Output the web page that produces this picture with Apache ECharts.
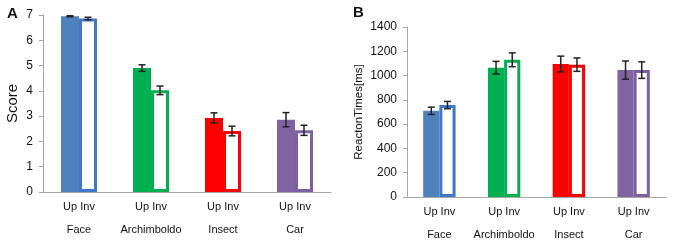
<!DOCTYPE html>
<html>
<head>
<meta charset="utf-8">
<script src="https://cdn.jsdelivr.net/npm/echarts@6/dist/echarts.min.js"></script>
<style>
  html, body { margin: 0; padding: 0; background: #fff; }
  #chart { width: 686px; height: 246px; }
</style>
</head>
<body>
<div id="chart"></div>
<script>
const categories = ['Face', 'Archimboldo', 'Insect', 'Car'];
const barColors = ['#4F81BD', '#00B050', '#FF0000', '#8064A2'];
const invBorders = ['#3F78C8', '#00B050', '#FF0000', '#7E5FA4'];

// panel A: score
const scoreUp = [6.95, 4.9, 2.93, 2.86];
const scoreUpErr = [0.02, 0.13, 0.2, 0.28];
const scoreInv = [6.86, 4.02, 2.41, 2.44];
const scoreInvErr = [0.05, 0.17, 0.19, 0.2];

// panel B: reaction times
const rtUp = [710, 1065, 1095, 1045];
const rtUpErr = [30, 52, 65, 75];
const rtInv = [757, 1130, 1090, 1045];
const rtInvErr = [30, 57, 55, 68];

const axisGrey = '#A6A6A6';
const font = 'Liberation Sans, Arial, sans-serif';

const chart = echarts.init(document.getElementById('chart'));

function errorSeries(idx, vals, errs, side) {
  return {
    type: 'custom',
    xAxisIndex: idx,
    yAxisIndex: idx,
    z: 10,
    data: vals.map((v, i) => [i, v, errs[i]]),
    renderItem: (params, api) => {
      const band = api.size([1, 0])[0];
      const off = side * band * 0.25 / 2;
      const top = api.coord([api.value(0), api.value(1) + api.value(2)]);
      const bot = api.coord([api.value(0), api.value(1) - api.value(2)]);
      const x = top[0] + off;
      const cap = 3.5;
      const style = { stroke: '#222', lineWidth: 1.5 };
      return {
        type: 'group',
        children: [
          { type: 'line', shape: { x1: x, y1: top[1], x2: x, y2: bot[1] }, style },
          { type: 'line', shape: { x1: x - cap, y1: top[1], x2: x + cap, y2: top[1] }, style },
          { type: 'line', shape: { x1: x - cap, y1: bot[1], x2: x + cap, y2: bot[1] }, style }
        ]
      };
    }
  };
}

function xAxisFor(idx) {
  return {
    type: 'category',
    gridIndex: idx,
    data: categories,
    axisLine: { lineStyle: { color: axisGrey, width: 1 } },
    axisTick: { length: 45, lineStyle: { color: axisGrey } },
    axisLabel: {
      margin: 3,
      interval: 0,
      color: '#111',
      fontFamily: font,
      fontSize: 11,
      lineHeight: 23,
      formatter: v => 'Up Inv\n' + v
    }
  };
}

function yAxisFor(idx, max, interval, name, nameSize, gap) {
  return {
    type: 'value',
    gridIndex: idx,
    min: 0,
    max: max,
    interval: interval,
    name: name,
    nameLocation: 'middle',
    nameGap: gap,
    nameTextStyle: { color: '#111', fontFamily: font, fontSize: nameSize },
    axisLine: { show: true, lineStyle: { color: axisGrey } },
    axisTick: { show: true, length: 4, lineStyle: { color: axisGrey } },
    axisLabel: { color: '#111', fontFamily: font, fontSize: 12, margin: 10, formatter: v => String(v) },
    splitLine: { show: false }
  };
}

function upBars(idx, vals) {
  return {
    type: 'bar',
    xAxisIndex: idx,
    yAxisIndex: idx,
    barWidth: '25%',
    barGap: '0%',
    data: vals.map((v, i) => ({ value: v, itemStyle: { color: barColors[i] } }))
  };
}

function invBars(idx, vals) {
  return {
    type: 'bar',
    xAxisIndex: idx,
    yAxisIndex: idx,
    barWidth: '25%',
    barGap: '0%',
    data: vals.map((v, i) => ({
      value: v,
      itemStyle: { color: '#fff', borderColor: invBorders[i], borderWidth: 3 }
    }))
  };
}

chart.setOption({
  animation: false,
  backgroundColor: '#fff',
  title: [
    { text: 'A', left: 2, top: 1, textStyle: { fontFamily: font, fontSize: 15, fontWeight: 'bold', color: '#111' } },
    { text: 'B', left: 348, top: 0, textStyle: { fontFamily: font, fontSize: 15, fontWeight: 'bold', color: '#111' } }
  ],
  grid: [
    { left: 43, top: 15, width: 288, height: 177 },
    { left: 407, top: 27, width: 259, height: 171 }
  ],
  xAxis: [xAxisFor(0), xAxisFor(1)],
  yAxis: [
    yAxisFor(0, 7, 1, 'Score', 15, 23),
    yAxisFor(1, 1400, 200, 'ReactonTimes[ms]', 11.5, 42)
  ],
  series: [
    upBars(0, scoreUp),
    invBars(0, scoreInv),
    errorSeries(0, scoreUp, scoreUpErr, -1),
    errorSeries(0, scoreInv, scoreInvErr, 1),
    upBars(1, rtUp),
    invBars(1, rtInv),
    errorSeries(1, rtUp, rtUpErr, -1),
    errorSeries(1, rtInv, rtInvErr, 1)
  ]
});
</script>
</body>
</html>
